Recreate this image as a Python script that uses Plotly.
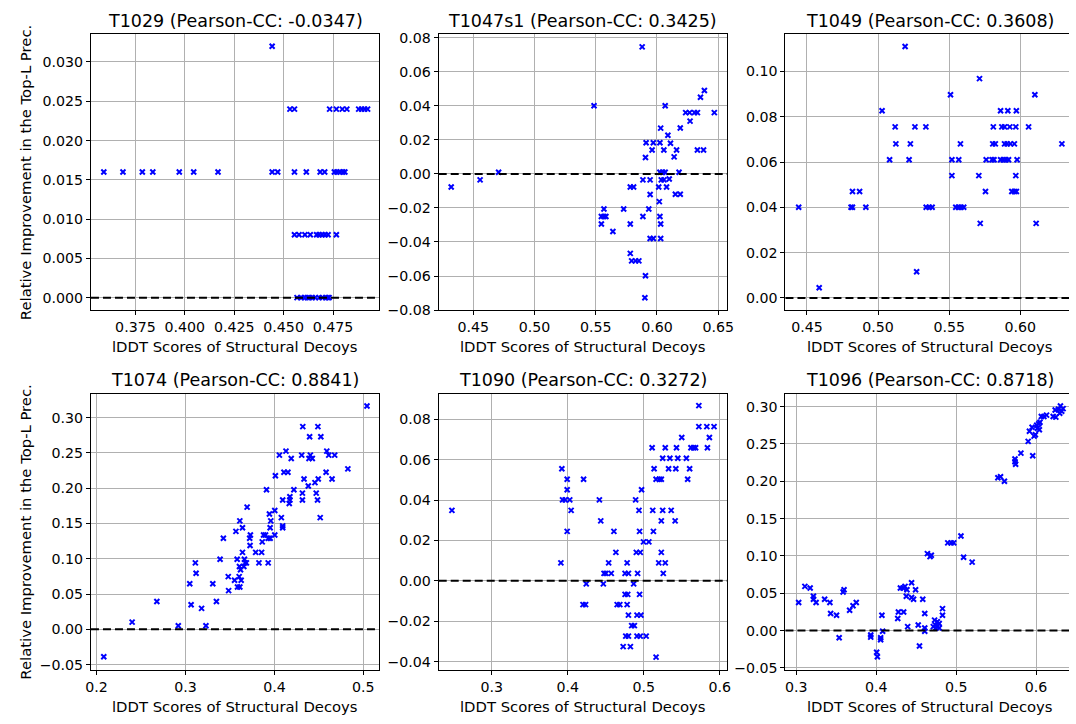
import plotly.graph_objects as go

# ---------------- data ----------------
titles = ["T1029 (Pearson-CC: -0.0347)", "T1047s1 (Pearson-CC: 0.3425)", "T1049 (Pearson-CC: 0.3608)",
          "T1074 (Pearson-CC: 0.8841)", "T1090 (Pearson-CC: 0.3272)", "T1096 (Pearson-CC: 0.8718)"]
x_label = "lDDT Scores of Structural Decoys"
y_label = "Relative Improvement in the Top-L Prec."

t1029_x = [0.359, 0.3687, 0.3785, 0.3838, 0.3972, 0.4045, 0.4168, 0.4442, 0.447, 0.4555, 0.4615, 0.4685,
           0.4708, 0.4757, 0.477, 0.4785, 0.480, 0.481,
           0.4532, 0.4555, 0.4733, 0.4767, 0.4797, 0.482, 0.488, 0.4895, 0.491, 0.4925,
           0.4442,
           0.4555, 0.4578, 0.4608, 0.4635, 0.4667, 0.468, 0.4695, 0.471, 0.4725, 0.4767,
           0.4568, 0.459, 0.4605, 0.462, 0.463, 0.4645, 0.466, 0.468, 0.4695, 0.4715, 0.4725, 0.473]
t1029_y = [0.016] * 18 + [0.024] * 10 + [0.032] + [0.008] * 10 + [0.0] * 12

t1047_x = [0.432, 0.4556, 0.4707, 0.5486, 0.5879, 0.5546, 0.5546, 0.5567, 0.5583, 0.5567, 0.564, 0.5728,
           0.5782, 0.5809, 0.5782, 0.5782, 0.5793, 0.5825, 0.5852, 0.5885, 0.5885, 0.5906, 0.5911, 0.5906,
           0.5901, 0.5933, 0.5944, 0.5944, 0.596, 0.597, 0.5944, 0.597, 0.6014, 0.6019, 0.603, 0.6024,
           0.603, 0.6024, 0.603, 0.6024, 0.6046, 0.6067, 0.6035, 0.6057, 0.6056, 0.6067, 0.6078, 0.6089,
           0.611, 0.616, 0.618, 0.615, 0.619, 0.619, 0.6234, 0.6266, 0.6306, 0.633, 0.6355, 0.6387,
           0.6468, 0.627, 0.633, 0.638, 0.614, 0.610]
t1047_y = [-0.0077, -0.0035, 0.001, 0.040, 0.0746, -0.0294, -0.025, -0.025, -0.025, -0.0206, -0.0338, -0.0206,
           -0.0077, -0.0077, -0.0294, -0.0467, -0.0511, -0.0511, -0.0511, -0.0035, -0.025, 0.0096, 0.0183, -0.0598,
           -0.0728, -0.0206, -0.0035, -0.0121, 0.014, 0.0183, -0.038, -0.038, -0.0077, -0.0163, -0.038, 0.0183,
           0.0269, -0.025, -0.0294, 0.001, 0.001, 0.001, -0.0035, -0.0035, 0.014, 0.040, -0.0077, 0.0227,
           0.018, 0.014, 0.001, -0.012, -0.012, 0.027, 0.036, 0.036, 0.036, 0.036, 0.045, 0.049,
           0.036, 0.031, 0.014, 0.014, 0.010, -0.003]

t1049_x = [0.4442, 0.4586, 0.481, 0.482, 0.482, 0.487, 0.4914, 0.5028, 0.5081, 0.512, 0.5125, 0.519,
           0.5218, 0.5227, 0.5259, 0.5271, 0.5336, 0.5338, 0.5359, 0.538, 0.5509, 0.5519, 0.5519, 0.5546,
           0.5565, 0.5583, 0.5602, 0.5567, 0.5579, 0.5708, 0.5713, 0.5718, 0.5755, 0.576, 0.5801, 0.5815,
           0.581, 0.5806, 0.5824, 0.5861, 0.5861, 0.588, 0.5898, 0.5917, 0.587, 0.5889, 0.5889, 0.5907,
           0.593, 0.5912, 0.5926, 0.594, 0.5958, 0.5972, 0.5958, 0.5968, 0.5972, 0.5968, 0.5977, 0.6058,
           0.6102, 0.6111, 0.6292]
t1049_y = [0.040, 0.0045, 0.040, 0.040, 0.047, 0.047, 0.040, 0.0826, 0.061, 0.0755, 0.068, 0.111,
           0.061, 0.068, 0.0755, 0.0116, 0.0755, 0.040, 0.040, 0.040, 0.0897, 0.054, 0.061, 0.040,
           0.040, 0.040, 0.040, 0.061, 0.068, 0.054, 0.0968, 0.0329, 0.047, 0.061, 0.061, 0.061,
           0.0755, 0.068, 0.068, 0.0826, 0.061, 0.061, 0.061, 0.061, 0.0755, 0.0755, 0.068, 0.068,
           0.068, 0.0826, 0.0755, 0.047, 0.047, 0.047, 0.068, 0.0755, 0.0826, 0.054, 0.061, 0.0755,
           0.0897, 0.0329, 0.068]

t1074_x = [0.2081, 0.24, 0.2678, 0.2919, 0.3063, 0.3048, 0.3119, 0.3111, 0.3181, 0.323, 0.3307, 0.3348,
           0.3389, 0.3426, 0.3481, 0.3485, 0.3552, 0.3567, 0.3585, 0.3611, 0.3581, 0.3604, 0.3611, 0.3607,
           0.3619, 0.3626, 0.3641, 0.3641, 0.3656, 0.367, 0.3685, 0.3663, 0.3693, 0.3722, 0.373, 0.3726,
           0.3789, 0.3826, 0.3856, 0.3863, 0.3878, 0.39, 0.3911, 0.393, 0.393, 0.3952, 0.3944, 0.3952,
           0.3959, 0.4004, 0.4004, 0.4011, 0.4056, 0.4078, 0.4093, 0.4093, 0.4093, 0.4107, 0.4152, 0.413,
           0.4167, 0.4174, 0.4174, 0.4189, 0.4219, 0.4307, 0.4315, 0.4319, 0.4315, 0.4333, 0.4381, 0.4396,
           0.4389, 0.4404, 0.4426, 0.4456, 0.447, 0.4485, 0.4493, 0.4489, 0.4522, 0.4515, 0.4581, 0.4589,
           0.4611, 0.4678, 0.4648, 0.4826, 0.5041]
t1074_y = [-0.039, 0.0102, 0.0395, 0.0051, 0.0348, 0.0645, 0.0794, 0.0942, 0.0297, 0.0051, 0.0645, 0.0395,
           0.0994, 0.129, 0.0747, 0.0548, 0.0696, 0.1388, 0.0599, 0.0599, 0.0994, 0.0747, 0.1537, 0.0891,
           0.0845, 0.0696, 0.1091, 0.1439, 0.0891, 0.0942, 0.0942, 0.0994, 0.1732, 0.129, 0.1337, 0.1188,
           0.1091, 0.0942, 0.1091, 0.124, 0.1337, 0.1337, 0.1978, 0.0942, 0.129, 0.129, 0.1634, 0.1439,
           0.1537, 0.1685, 0.1337, 0.2177, 0.247, 0.1583, 0.1439, 0.1467, 0.1834, 0.2228, 0.2228, 0.2526,
           0.1783, 0.1834, 0.188, 0.2423, 0.1978, 0.247, 0.1931, 0.2874, 0.1834, 0.2131, 0.2033, 0.273,
           0.2423, 0.247, 0.2423, 0.208, 0.1931, 0.1834, 0.2131, 0.2874, 0.273, 0.1583, 0.2228, 0.2526,
           0.247, 0.247, 0.2131, 0.2275, 0.3166]

t1090_x = [0.2476, 0.3923, 0.391, 0.3993, 0.3993, 0.3993, 0.3932, 0.3967, 0.4027, 0.4045, 0.4209, 0.4244,
           0.4201, 0.4235, 0.4417, 0.4435, 0.4469, 0.4478, 0.4504, 0.4573, 0.4539, 0.4608, 0.4634, 0.4651,
           0.4686, 0.4782, 0.4755, 0.4799, 0.4782, 0.4755, 0.479, 0.4799, 0.4764, 0.4799, 0.473, 0.4825,
           0.4842, 0.4877, 0.4868, 0.4894, 0.4903, 0.4955, 0.4912, 0.4964, 0.492, 0.4938, 0.4946, 0.4946,
           0.4912, 0.4955, 0.5033, 0.4972, 0.4998, 0.5068, 0.5111, 0.5119, 0.5128, 0.5137, 0.5163, 0.5206,
           0.5232, 0.5163, 0.5198, 0.5284, 0.5232, 0.5232, 0.525, 0.5362, 0.5258, 0.525, 0.5345, 0.5449,
           0.5562, 0.5284, 0.5432, 0.5328, 0.5423, 0.5414, 0.5501, 0.5579, 0.5605, 0.5622, 0.5657, 0.5683,
           0.5726, 0.5726, 0.5831, 0.5926, 0.5839, 0.5865]
t1090_y = [0.0349, 0.0555, 0.0089, 0.0503, 0.0451, 0.0245, 0.0401, 0.0401, 0.0401, 0.0349, 0.0503, -0.0015,
           -0.0118, -0.0118, 0.0401, 0.0297, -0.0015, 0.0037, 0.0037, 0.0037, 0.0089, 0.0245, 0.0141, -0.0118,
           -0.0118, -0.0118, 0.0037, 0.0037, 0.0089, -0.0067, -0.0067, -0.017, -0.0274, -0.0274, -0.0326, -0.0326,
           -0.0222, -0.0222, -0.0015, 0.0401, 0.0141, 0.0141, -0.017, -0.017, 0.0037, 0.0349, 0.0245, -0.0067,
           -0.0274, -0.0274, -0.0274, 0.0451, 0.0193, 0.0193, 0.0659, 0.0349, 0.0245, 0.0555, 0.0503, 0.0503,
           0.0503, -0.0378, 0.0089, 0.0089, 0.0141, 0.0297, 0.0349, 0.0349, 0.0037, 0.0607, 0.0607, 0.0607,
           0.0607, 0.0659, 0.0659, 0.0555, 0.0555, 0.0297, 0.071, 0.0503, 0.0555, 0.0659, 0.0659, 0.0659,
           0.0868, 0.0764, 0.0764, 0.0764, 0.0659, 0.071]

t1096_x = [0.3029, 0.3107, 0.3173, 0.3214, 0.3214, 0.3247, 0.3354, 0.342, 0.3429, 0.3503, 0.3536, 0.3585,
           0.3597, 0.3667, 0.3709, 0.375, 0.3931, 0.3931, 0.4005, 0.4014, 0.4055, 0.4055, 0.4071, 0.408,
           0.4269, 0.4277, 0.4302, 0.4335, 0.436, 0.4343, 0.4384, 0.4376, 0.4393, 0.4442, 0.4442, 0.4467,
           0.4492, 0.4525, 0.4541, 0.4582, 0.4607, 0.4607, 0.4607, 0.464, 0.4673, 0.4689, 0.4714, 0.4739,
           0.4764, 0.4788, 0.4764, 0.473, 0.4747, 0.4788, 0.4829, 0.4829, 0.4895, 0.4937, 0.497, 0.506,
           0.5093, 0.52, 0.5522, 0.5555, 0.5604, 0.5736, 0.5736, 0.5744, 0.581, 0.5901, 0.5917, 0.595,
           0.5958, 0.5975, 0.5991, 0.6008, 0.6016, 0.6033, 0.6041, 0.6049, 0.6066, 0.6098, 0.6131, 0.6214,
           0.6247, 0.6239, 0.628, 0.6305, 0.6321, 0.6338, 0.6296]
t1096_y = [0.0377, 0.0592, 0.057, 0.046, 0.042, 0.0377, 0.042, 0.0377, 0.0228, 0.0206, -0.0096, 0.0518,
           0.0548, 0.0272, 0.0333, 0.0377, -0.006, -0.0088, -0.029, -0.0351, -0.0096, -0.0123, 0.0206, -0.0009,
           0.0162, 0.025, 0.057, 0.057, 0.0592, 0.025, 0.0548, 0.046, 0.0053, 0.064, 0.0443, 0.042,
           0.0548, 0.0075, -0.0206, 0.042, 0.0228, -0.0009, 0.0035, 0.1031, 0.0991, 0.1009, 0.0053, 0.0075,
           0.0053, 0.0096, 0.0118, 0.014, 0.0035, 0.0035, 0.0294, 0.0206, 0.1175, 0.1175, 0.1175, 0.1268,
           0.0982, 0.0917, 0.2048, 0.2061, 0.2, 0.2298, 0.2263, 0.2228, 0.2377, 0.2535, 0.2671, 0.2724,
           0.2342, 0.2605, 0.2623, 0.275, 0.271, 0.277, 0.269, 0.279, 0.2868, 0.2868, 0.2886, 0.2868,
           0.286, 0.2956, 0.2965, 0.3009, 0.2939, 0.2974, 0.2912]

panels_x = [t1029_x, t1047_x, t1049_x, t1074_x, t1090_x, t1096_x]
panels_y = [t1029_y, t1047_y, t1049_y, t1074_y, t1090_y, t1096_y]

# ---------------- layout geometry ----------------
W, H = 1076, 724
col_px = [(86, 378), (438, 730), (789, 1076)]
row_px = [(30, 311), (396, 677)]
x_ranges = [(0.3525, 0.4985), (0.4218, 0.6573), (0.4349, 0.6342),
            (0.1937, 0.5181), (0.2302, 0.6099), (0.2864, 0.6412)]
y_ranges = [(-0.001625, 0.0335), (-0.0802, 0.0819), (-0.0055, 0.1163),
            (-0.0575, 0.3338), (-0.0441, 0.0926), (-0.0526, 0.3171)]
x_dticks = [0.025, 0.05, 0.05, 0.1, 0.1, 0.1]
x_fmts = [".3f", ".2f", ".2f", ".1f", ".1f", ".1f"]
y_dticks = [0.005, 0.02, 0.02, 0.05, 0.02, 0.05]
y_fmts = [".3f", ".2f", ".2f", ".2f", ".2f", ".2f"]

FONT = "DejaVu Sans"
fig = go.Figure()
shapes = []
annotations = []
layout_axes = {}

for i in range(6):
    r, c = divmod(i, 3)
    n = i + 1
    xa = "xaxis" if n == 1 else f"xaxis{n}"
    ya = "yaxis" if n == 1 else f"yaxis{n}"
    xr = "x" if n == 1 else f"x{n}"
    yr = "y" if n == 1 else f"y{n}"
    x0p, x1p = col_px[c]
    y0p, y1p = row_px[r]
    fig.add_trace(go.Scatter(
        x=panels_x[i], y=panels_y[i], mode="markers", xaxis=xr, yaxis=yr, showlegend=False,
        marker=dict(symbol="x-thin", size=5, color="#0000ff", line=dict(width=2, color="#0000ff")),
    ))
    common = dict(showgrid=True, gridcolor="#b0b0b0", gridwidth=0.8, zeroline=False,
                  showline=True, linecolor="#000000", linewidth=1,
                  ticks="outside", ticklen=4, tickwidth=1, tickcolor="#000000",
                  tickfont=dict(family=FONT, size=14.2, color="#000000"))
    layout_axes[xa] = dict(common, domain=[x0p / W, x1p / W], range=list(x_ranges[i]),
                           anchor=yr, mirror=True, tick0=0, dtick=x_dticks[i], tickformat=x_fmts[i])
    layout_axes[ya] = dict(common, domain=[1 - y1p / H, 1 - y0p / H], range=list(y_ranges[i]),
                           anchor=xr, mirror=(c < 2), tick0=0, dtick=y_dticks[i], tickformat=y_fmts[i])
    shapes.append(dict(type="line", xref=f"{xr} domain", yref=yr, x0=0, x1=1, y0=0, y1=0,
                       line=dict(color="#000000", width=2, dash="8px,4px")))
    cx = (x0p + (x0p + 292)) / 2
    annotations.append(dict(text=titles[i], xref="paper", yref="paper", x=cx / W, y=1 - (y0p - 14) / H,
                            showarrow=False, xanchor="center", yanchor="middle",
                            font=dict(family=FONT, size=17.5, color="#000000")))
    annotations.append(dict(text=x_label, xref="paper", yref="paper", x=cx / W, y=1 - (y1p + 37) / H,
                            showarrow=False, xanchor="center", yanchor="middle",
                            font=dict(family=FONT, size=14.8, color="#000000")))
    if c == 0:
        annotations.append(dict(text=y_label, xref="paper", yref="paper", x=20 / W,
                                y=1 - ((y0p + y1p) / 2) / H, textangle=-90,
                                showarrow=False, xanchor="center", yanchor="middle",
                                font=dict(family=FONT, size=14.8, color="#000000")))

fig.update_layout(width=W, height=H, autosize=False, margin=dict(l=0, r=0, t=0, b=0),
                  paper_bgcolor="white", plot_bgcolor="white",
                  shapes=shapes, annotations=annotations, **layout_axes)

fig.write_html("out.html", config={"displayModeBar": False}, post_script=(
    "document.documentElement.style.margin='0';document.body.style.margin='0';"
    "document.documentElement.style.overflow='hidden';document.body.style.overflow='hidden';"))
